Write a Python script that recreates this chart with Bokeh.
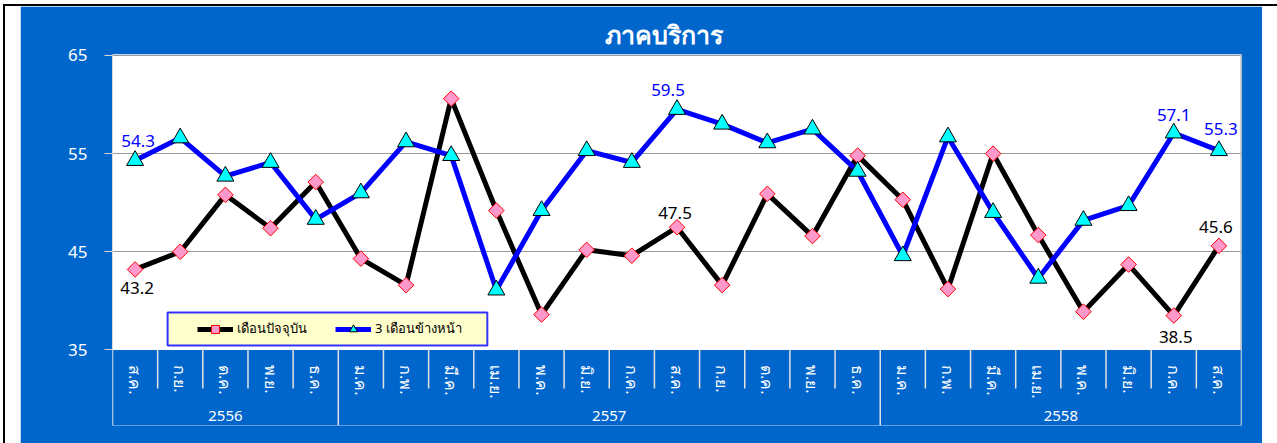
import math
from bokeh.plotting import figure
from bokeh.models import (FactorRange, Range1d, FixedTicker, ColumnDataSource, LabelSet,
                          Legend, LegendItem, BoxAnnotation, InlineStyleSheet)
from bokeh.core.properties import value
from bokeh.embed import file_html
from bokeh.resources import INLINE

# ---------------- data ----------------
title_text = "ภาคบริการ"
years = ["2556"] * 5 + ["2557"] * 12 + ["2558"] * 8
months = ["ส.ค.", "ก.ย.", "ต.ค.", "พ.ย.", "ธ.ค.",
          "ม.ค.", "ก.พ.", "มี.ค.", "เม.ย.", "พ.ค.", "มิ.ย.", "ก.ค.", "ส.ค.", "ก.ย.", "ต.ค.", "พ.ย.", "ธ.ค.",
          "ม.ค.", "ก.พ.", "มี.ค.", "เม.ย.", "พ.ค.", "มิ.ย.", "ก.ค.", "ส.ค."]
current_month = [43.2, 45.0, 50.8, 47.4, 52.1, 44.3, 41.6, 60.6, 49.2, 38.6, 45.2, 44.6, 47.5,
                 41.6, 50.9, 46.6, 54.8, 50.3, 41.2, 55.0, 46.7, 38.9, 43.7, 38.5, 45.6]
three_months_ahead = [54.3, 56.6, 52.7, 54.1, 48.3, 51.0, 56.2, 54.8, 41.1, 49.2, 55.3, 54.1, 59.5,
                      58.0, 56.1, 57.5, 53.2, 44.6, 56.7, 49.0, 42.3, 48.2, 49.7, 57.1, 55.3]
series_names = ["เดือนปัจจุบัน", "3 เดือนข้างหน้า"]
y_ticks = [35, 45, 55, 65]

# which points carry a value label
labelled_current = [0, 12, 23, 24]
labelled_ahead = [0, 12, 23, 24]

# ---------------- styles / layout ----------------
BLUE_BG = "#0066CC"
FONT = "Noto Sans"
W, H = 1242, 437
Y_LO, Y_HI = 27.3, 65.1          # frame extends below 35 to hold the category band
LEAF_SEP_END = 31.07             # depth of month separators
AXIS_Y = y_ticks[0]

factors = list(zip(years, months))

p = figure(width=W, height=H,
           x_range=FactorRange(*factors, factor_padding=0, group_padding=0, range_padding=0),
           y_range=Range1d(Y_LO, Y_HI),
           output_backend="svg", toolbar_location=None,
           min_border_left=92, min_border_right=21, min_border_top=48, min_border_bottom=18,
           border_fill_color=BLUE_BG, background_fill_color="white",
           outline_line_color=None)
p.margin = (6, 0, 0, 20)
# thin black page frame lines (outside the chart area), as in the original
p.stylesheets = [InlineStyleSheet(css="""
:host { overflow: visible; }
:host::before { content: ""; position: absolute; left: -17px; top: -2px; width: 2px; height: 460px; background: black; }
:host::after { content: ""; position: absolute; left: -17px; top: -2px; width: 1274px; height: 2px; background: black; }
""")]

# title
p.title.text = title_text
p.title.align = "left"
p.title.offset = 492
p.title.text_color = "white"
p.title.text_font = FONT
p.title.text_font_size = "25px"
p.title.text_font_style = "bold"
p.title.standoff = 8

# blue category band below the value area
p.add_layout(BoxAnnotation(top=AXIS_Y, bottom=Y_LO - 10, left=-5, right=len(months) + 5,
                           fill_color=BLUE_BG, fill_alpha=1,
                           line_color=None, level="underlay"))

# y axis
p.yaxis.ticker = FixedTicker(ticks=y_ticks)
p.yaxis.bounds = (y_ticks[0], y_ticks[-1])
p.yaxis.major_label_text_color = "white"
p.yaxis.major_label_text_font = FONT
p.yaxis.major_label_text_font_size = "17px"
p.yaxis.major_tick_in = 0
p.yaxis.major_tick_out = 8
p.yaxis.major_tick_line_color = "#D9D9D9"
p.yaxis.minor_tick_line_color = None
p.yaxis.axis_line_color = "#D9D9D9"
p.yaxis.major_label_standoff = 17

# x axis (drawn at y=35 inside the frame)
p.xaxis.fixed_location = AXIS_Y
p.xaxis.major_label_orientation = "vertical"
p.xaxis.major_label_text_color = "white"
p.xaxis.major_label_text_font = FONT
p.xaxis.major_label_text_font_size = "16px"
p.xaxis.major_tick_line_color = None
p.xaxis.axis_line_color = None
p.xaxis.major_label_standoff = 9
p.xaxis.group_text_color = "white"
p.xaxis.group_text_font = FONT
p.xaxis.group_text_font_style = "normal"
p.xaxis.group_text_font_size = "15px"
p.xaxis.separator_line_color = None

# grid
p.xgrid.visible = False
p.ygrid.ticker = FixedTicker(ticks=y_ticks[1:])
p.ygrid.grid_line_color = "#9A9A9A"
p.ygrid.grid_line_width = 1

# right edge of the value area
p.segment(x0=[len(factors)], y0=[y_ticks[0]], x1=[len(factors)], y1=[y_ticks[-1]],
          line_color="#A6A6A6", line_width=2)

# ---------------- separators in the category band ----------------
n = len(factors)
group_bounds = [0] + [i for i in range(1, n) if years[i] != years[i - 1]] + [n]
sep_x = list(range(n + 1))
sep_y1 = [Y_LO if i in group_bounds else LEAF_SEP_END for i in sep_x]
p.segment(x0=sep_x, y0=[AXIS_Y] * len(sep_x), x1=sep_x, y1=sep_y1,
          line_color="#E3E3E3", line_width=1.5)

# ---------------- series ----------------
l1 = p.line(x=factors, y=current_month, line_color="black", line_width=5, line_join="round")
m1 = p.scatter(x=factors, y=current_month, marker="square", angle=math.pi / 4, size=11,
               fill_color="#FF99CC", line_color="#FF0000", line_width=1)
l2 = p.line(x=factors, y=three_months_ahead, line_color="#0000FF", line_width=5, line_join="round")
m2 = p.scatter(x=factors, y=three_months_ahead, marker="triangle", size=17,
               fill_color="#00FFFF", line_color="black", line_width=1)

# ---------------- value labels ----------------
cur_dx = {0: 2, 12: -2, 23: 2, 24: -3}
cur_dy = {0: -19, 12: 14, 23: -21, 24: 19}
ahd_dx = {0: 3, 12: -9, 23: 0, 24: 2}
ahd_dy = {0: 20, 12: 19, 23: 18, 24: 22}

lab_cur = ColumnDataSource(dict(
    x=[factors[i] for i in labelled_current],
    y=[current_month[i] for i in labelled_current],
    t=[f"{current_month[i]:.1f}" for i in labelled_current],
    dx=[cur_dx[i] for i in labelled_current],
    dy=[cur_dy[i] for i in labelled_current]))
lab_ahd = ColumnDataSource(dict(
    x=[factors[i] for i in labelled_ahead],
    y=[three_months_ahead[i] for i in labelled_ahead],
    t=[f"{three_months_ahead[i]:.1f}" for i in labelled_ahead],
    dx=[ahd_dx[i] for i in labelled_ahead],
    dy=[ahd_dy[i] for i in labelled_ahead]))
p.add_layout(LabelSet(x="x", y="y", text="t", source=lab_cur, x_offset="dx", y_offset="dy",
                      text_align="center", text_baseline="middle", text_color="black",
                      text_font=value(FONT), text_font_size="17px"))
p.add_layout(LabelSet(x="x", y="y", text="t", source=lab_ahd, x_offset="dx", y_offset="dy",
                      text_align="center", text_baseline="middle", text_color="#0000FF",
                      text_font=value(FONT), text_font_size="17px"))

# ---------------- legend ----------------
p.add_layout(BoxAnnotation(left=1.22, right=8.3, top=38.81, bottom=35.45,
                           fill_color="#FFFFCC", fill_alpha=1, line_color="#3333FF",
                           line_width=2, line_alpha=1))
legend = Legend(items=[LegendItem(label=series_names[0], renderers=[l1, m1]),
                       LegendItem(label=series_names[1], renderers=[l2, m2])],
                orientation="horizontal", location=(85, 86),
                background_fill_alpha=0, border_line_color=None,
                padding=0, margin=0, spacing=28, glyph_width=36, glyph_height=20,
                label_standoff=4, label_text_font=FONT, label_text_font_size="13px",
                label_text_color="black")
p.add_layout(legend)

open("out.html", "w").write(file_html(p, INLINE))
